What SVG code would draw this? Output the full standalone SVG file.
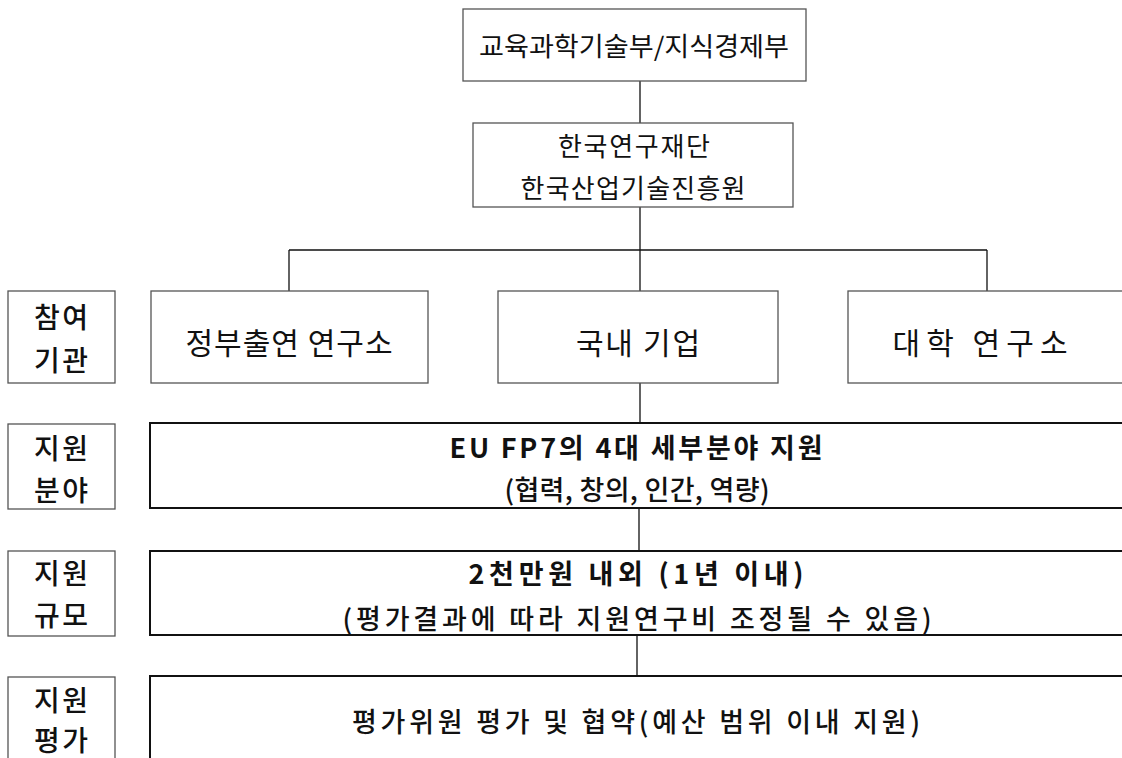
<svg xmlns="http://www.w3.org/2000/svg" width="1122" height="758" viewBox="0 0 1122 758">
<style>
.b1{fill:#fff;stroke:#555;stroke-width:1.3}
.b2{fill:#fff;stroke:#111;stroke-width:2}
.c{fill:none;stroke:#111;stroke-width:1.3}
text{font-family:"Noto Sans CJK KR","Noto Sans",sans-serif;fill:#111;text-anchor:middle}
.t{font-size:26px}
.r{font-size:30px}
.l{font-size:28px;font-weight:500}
.m{font-size:27px;font-weight:bold}
.n{font-size:27px;font-weight:500}
</style>
<rect width="1122" height="758" fill="#fff"/>
<g id="connectors">
<path class="c" d="M640 81V123M640 207V250M289 250H987M289 250V291M987 250V291M640 250V291M640 383V423M639 508V551M637 635V676"/>
</g>
<g id="ministry">
<rect class="b1" x="463" y="9" width="343" height="72"/>
<text class="t" x="634" y="56" textLength="310" lengthAdjust="spacingAndGlyphs">교육과학기술부/지식경제부</text>
</g>
<g id="agency">
<rect class="b1" x="473" y="123" width="320" height="84"/>
<text class="t" x="634" y="156" textLength="152" lengthAdjust="spacing">한국연구재단</text>
<text class="t" x="633" y="198" textLength="225" lengthAdjust="spacing">한국산업기술진흥원</text>
</g>
<g id="label1">
<rect class="b1" x="8" y="291" width="107" height="92"/>
<text class="l" x="61" y="328" textLength="54" lengthAdjust="spacing">참여</text>
<text class="l" x="61" y="371" textLength="54" lengthAdjust="spacing">기관</text>
</g>
<g id="gri">
<rect class="b1" x="151" y="291" width="277" height="92"/>
<text class="r" x="289" y="354" textLength="207" lengthAdjust="spacing">정부출연 연구소</text>
</g>
<g id="company">
<rect class="b1" x="498" y="291" width="280" height="92"/>
<text class="r" x="638" y="354" textLength="124" lengthAdjust="spacing">국내 기업</text>
</g>
<g id="university">
<rect class="b1" x="848" y="291" width="290" height="92"/>
<text class="r" x="980" y="354" textLength="175" lengthAdjust="spacing">대학 연구소</text>
</g>
<g id="label2">
<rect class="b1" x="8" y="424" width="107" height="85"/>
<text class="l" x="61" y="459" textLength="54" lengthAdjust="spacing">지원</text>
<text class="l" x="61" y="501" textLength="54" lengthAdjust="spacing">분야</text>
</g>
<g id="field">
<rect class="b2" x="150" y="423" width="990" height="85"/>
<text class="m" x="636" y="458" textLength="373" lengthAdjust="spacing">EU FP7의 4대 세부분야 지원</text>
<text class="n" x="637" y="500" textLength="265" lengthAdjust="spacing">(협력, 창의, 인간, 역량)</text>
</g>
<g id="label3">
<rect class="b1" x="8" y="551" width="107" height="85"/>
<text class="l" x="61" y="584" textLength="54" lengthAdjust="spacing">지원</text>
<text class="l" x="61" y="626" textLength="54" lengthAdjust="spacing">규모</text>
</g>
<g id="scale">
<rect class="b2" x="150" y="551" width="990" height="84"/>
<text class="m" x="636" y="584" textLength="335" lengthAdjust="spacing">2천만원 내외 (1년 이내)</text>
<text class="n" x="637" y="629" textLength="589" lengthAdjust="spacing">(평가결과에 따라 지원연구비 조정될 수 있음)</text>
</g>
<g id="label4">
<rect class="b1" x="8" y="677" width="107" height="100"/>
<text class="l" x="61" y="711" textLength="54" lengthAdjust="spacing">지원</text>
<text class="l" x="61" y="751" textLength="54" lengthAdjust="spacing">평가</text>
</g>
<g id="evaluation">
<rect class="b2" x="150" y="676" width="990" height="100"/>
<text class="n" x="636" y="732" textLength="568" lengthAdjust="spacing">평가위원 평가 및 협약(예산 범위 이내 지원)</text>
</g>
</svg>
